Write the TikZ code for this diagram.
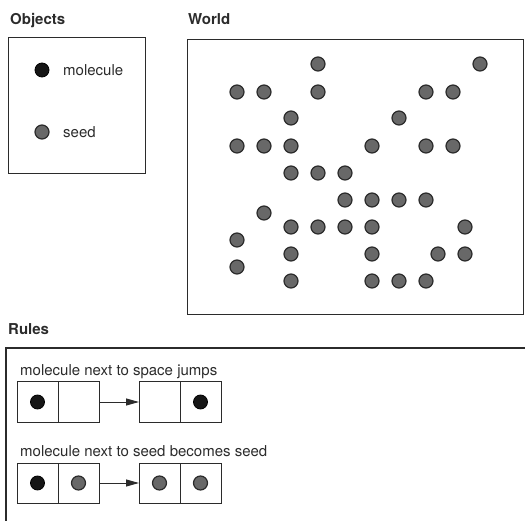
\documentclass[tikz,border=0pt]{standalone}
\usepackage{fontspec}
\setmainfont{TeX Gyre Heros}
\usetikzlibrary{positioning,arrows.meta}
\definecolor{ink}{HTML}{2B2B2B}
\definecolor{seedgray}{HTML}{686868}
\definecolor{molblack}{HTML}{161616}

\tikzset{
  panel/.style={draw=ink, line width=1.2pt, inner sep=0pt, anchor=north west},
  title/.style={anchor=base west, inner sep=0pt, text=ink,
    font=\fontsize{15}{17}\selectfont\bfseries},
  caption/.style={anchor=base west, inner sep=0pt, text=ink,
    font=\fontsize{15}{17}\selectfont},
  molecule/.style={circle, draw=black, fill=molblack, minimum size=14pt,
    inner sep=0pt, line width=0.8pt},
  seed/.style={circle, draw=ink, fill=seedgray, minimum size=14pt,
    inner sep=0pt, line width=1.2pt},
  cell/.style={draw=ink, line width=1pt, minimum width=41pt, minimum height=40pt,
    inner sep=0pt, outer sep=0pt},
  rulearrow/.style={draw=ink, line width=1pt, -{Triangle[length=13pt,width=7pt]}}
}

\begin{document}
\begin{tikzpicture}[x=1pt, y=-1pt]
\useasboundingbox (0,0) rectangle (525,521);

% titles
\node[title] (objtitle) at (10,25) {Objects};
\node[title] (worldtitle) at (188,25) {World};
\node[title] (rulestitle) at (8,335) {Rules};

% objects panel
\node[panel, minimum width=137pt, minimum height=136pt] (objects) at (8,37) {};
\node[molecule] (legmol) at (42,70) {};
\node[caption, anchor=west] (legmoltext) at (63,70) {molecule};
\node[seed] (legseed) at (42,132) {};
\node[caption, anchor=west] (legseedtext) at (63,132) {seed};

% world panel
\node[panel, minimum width=336pt, minimum height=275pt] (world) at (187,39) {};
\foreach \x/\y [count=\i] in {318/64, 480/64,
    237/92, 264/92, 318/92, 426/92, 453/92,
    291/118, 399/118,
    237/146, 264/146, 291/146, 372/146, 426/146, 453/146,
    291/173, 318/173, 345/173,
    345/200, 372/200, 399/200, 426/200,
    264/213,
    291/227, 318/227, 345/227, 372/227, 465/227,
    237/240,
    291/254, 372/254, 438/254, 465/254,
    237/267,
    291/281, 372/281, 399/281, 426/281}
  \node[seed] (world\i) at (\x,\y) {};

% rules panel (runs off the page)
\draw[ink, line width=1.2pt] (530,348) -- (6,348) -- (6,530);

% rule 1
\node[caption] (rule1text) at (20,375) {molecule next to space jumps};
\node[cell] (r1a) at (37.5,402) {};
\node[cell, right=0pt of r1a] (r1b) {};
\node[cell, right=40pt of r1b] (r1c) {};
\node[cell, right=0pt of r1c] (r1d) {};
\draw[rulearrow] (r1b) -- (r1c);
\node[molecule] (r1mola) at (r1a) {};
\node[molecule] (r1molb) at (r1d) {};

% rule 2
\node[caption] (rule2text) at (20,456) {molecule next to seed becomes seed};
\node[cell] (r2a) at (37.5,483) {};
\node[cell, right=0pt of r2a] (r2b) {};
\node[cell, right=40pt of r2b] (r2c) {};
\node[cell, right=0pt of r2c] (r2d) {};
\draw[rulearrow] (r2b) -- (r2c);
\node[molecule] (r2mol) at (r2a) {};
\node[seed] (r2seeda) at (r2b) {};
\node[seed] (r2seedb) at (r2c) {};
\node[seed] (r2seedc) at (r2d) {};
\end{tikzpicture}
\end{document}
